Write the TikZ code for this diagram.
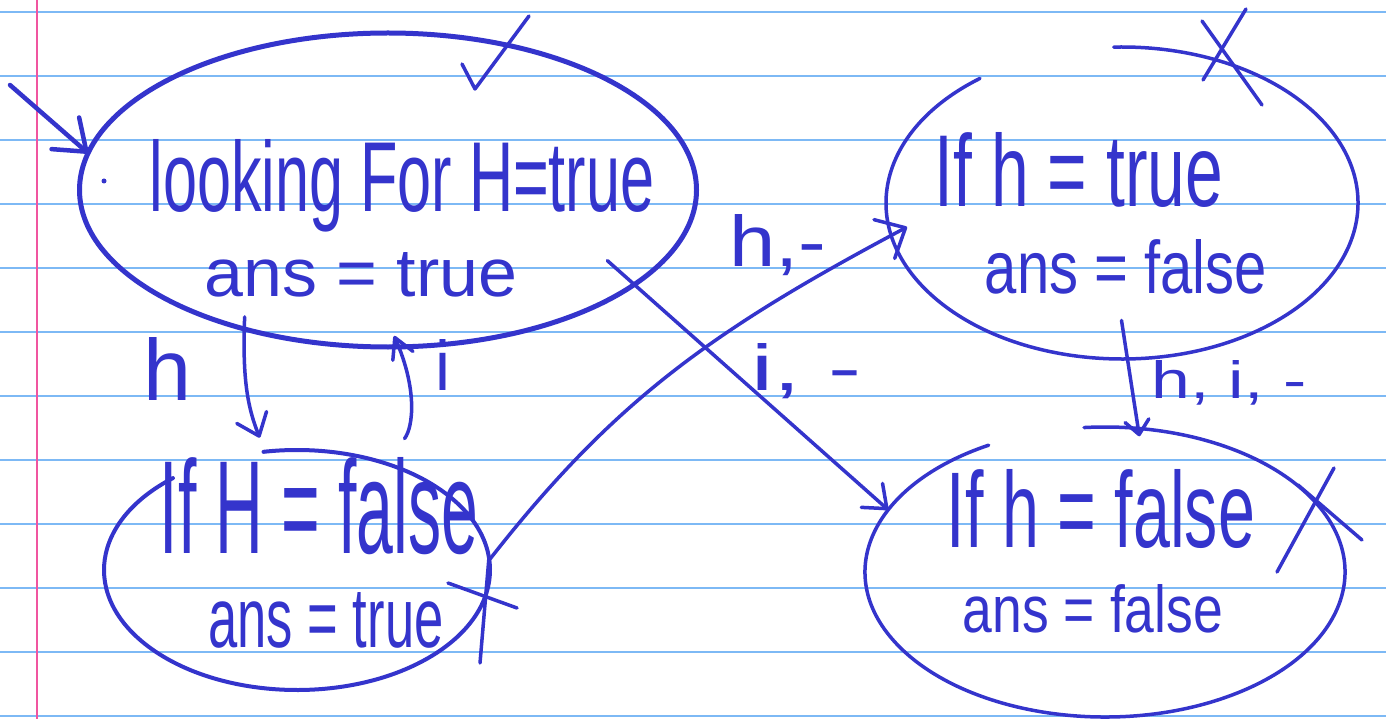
\documentclass[tikz,border=0pt]{standalone}
\usepackage{fontspec}
\setmainfont{Liberation Sans}
\usepackage{graphicx}
\usetikzlibrary{shapes.geometric,arrows.meta}
\definecolor{ink}{RGB}{52,52,204}
\definecolor{paperrule}{RGB}{125,185,245}
\definecolor{papermargin}{RGB}{240,85,160}

\begin{document}
\begin{tikzpicture}[x=1pt,y=1pt]

\tikzstyle{statering} = [ellipse,inner sep=0,outer sep=0]
\tikzstyle{ink_line} = [draw=ink,line width=3.5,line cap=round,line join=round]
\tikzstyle{ink_arrow_edge} = [ink_line,-{Straight Barb[round,length=20pt,width=32pt]}]
\tikzstyle{inktext} = [text=ink,inner sep=0,anchor=base]

% paper
\useasboundingbox (0,0) rectangle (1386,-719);
\fill[white] (0,0) rectangle (1386,-719);
\foreach \y in {12,76,...,716}
  \draw[paperrule,line width=2] (0,-\y) -- (1386,-\y);
\draw[papermargin,line width=2] (37,0) -- (37,-719);

% states
\node [statering,draw=ink,line width=5,minimum width=617pt,minimum height=314pt] (e1) at (388,-190) {};
\node [statering,minimum width=386pt,minimum height=240pt] (e2) at (297,-570) {};
\node [statering,minimum width=472pt,minimum height=312pt] (e3) at (1122,-203) {};
\node [statering,minimum width=480pt,minimum height=290pt] (e4) at (1105,-572) {};
\draw [ink_line,line width=4] (e2.center) ++(130:193 and 120) arc [start angle=130,end angle=460,x radius=193,y radius=120];
\draw [ink_line] (e3.center) ++(127:236 and 156) arc [start angle=127,end angle=452,x radius=236,y radius=156];
\draw [ink_line] (e4.center) ++(119:240 and 145) arc [start angle=119,end angle=455,x radius=240,y radius=145];
\fill [ink] (104,-181) circle (2.5);

\node [inktext] (t1a) at (402,-212) {\resizebox{505pt}{72pt}{looking For H=true}};
\node [inktext] (t1b) at (361,-296) {\resizebox{313pt}{44pt}{ans = true}};
\node [inktext] (t2a) at (319,-553) {\resizebox{318pt}{96pt}{If H = false}};
\node [inktext] (t2b) at (326,-647) {\resizebox{235pt}{55pt}{ans = true}};
\node [inktext] (t3a) at (1079,-207) {\resizebox{288pt}{74pt}{If h = true}};
\node [inktext] (t3b) at (1126,-293) {\resizebox{282pt}{54pt}{ans = false}};
\node [inktext] (t4a) at (1101,-547) {\resizebox{308pt}{78pt}{If h = false}};
\node [inktext] (t4b) at (1093,-632) {\resizebox{260pt}{48pt}{ans = false}};

% transitions
\coordinate (start) at (10,-85);
\draw [ink_arrow_edge,line width=4.5,-{Straight Barb[round,length=28pt,width=42pt]}] (start) -- (e1.173);
\draw [ink_arrow_edge,shorten <=-12pt,shorten >=15pt] (e1.224) to[bend right=12] (e2.105);
\draw [ink_arrow_edge,shorten <=31pt,shorten >=-12pt,-{Straight Barb[round,length=20pt,width=22pt]}] (e2.50) to[bend right=30] (e1.-86);
\draw [ink_arrow_edge,shorten >=-18pt,-{Straight Barb[round,length=24pt,width=44pt]}] (e2.3) to[out=52,in=-152] (e3.188);
\draw [ink_arrow_edge,shorten <=-36pt] (e1.-21) -- (e4.164);
\draw [ink_arrow_edge,shorten <=-39pt,shorten >=-8pt,-{Straight Barb[round,length=14pt,width=24pt]}] (e3.-88) -- (e4.77);

\node [inktext] (lh) at (168,-400) {\resizebox{48pt}{63pt}{h}};
\node [inktext] (li) at (443,-390) {\resizebox{15pt}{51pt}{i}};
\node [inktext] (lhx) at (778,-267) {\resizebox{97pt}{52pt}{h,-}};
\node [inktext] (lix) at (807,-390) {\resizebox{110pt}{47pt}{i, -}};
\node [inktext] (lhix) at (1229,-398) {\resizebox{155pt}{38pt}{h, i, -}};

% marks
\draw [ink_line] (462,-64) -- (475,-89) -- (529,-16);
\draw [ink_line] (448,-583) -- (517,-608);
\draw [ink_line] (489,-557) -- (480,-663);
\draw [ink_line] (1202,-21) -- (1262,-105);
\draw [ink_line] (1246,-9) -- (1203,-80);
\draw [ink_line] (1298,-485) -- (1362,-540);
\draw [ink_line] (1334,-468) -- (1277,-572);
\end{tikzpicture}
\end{document}
